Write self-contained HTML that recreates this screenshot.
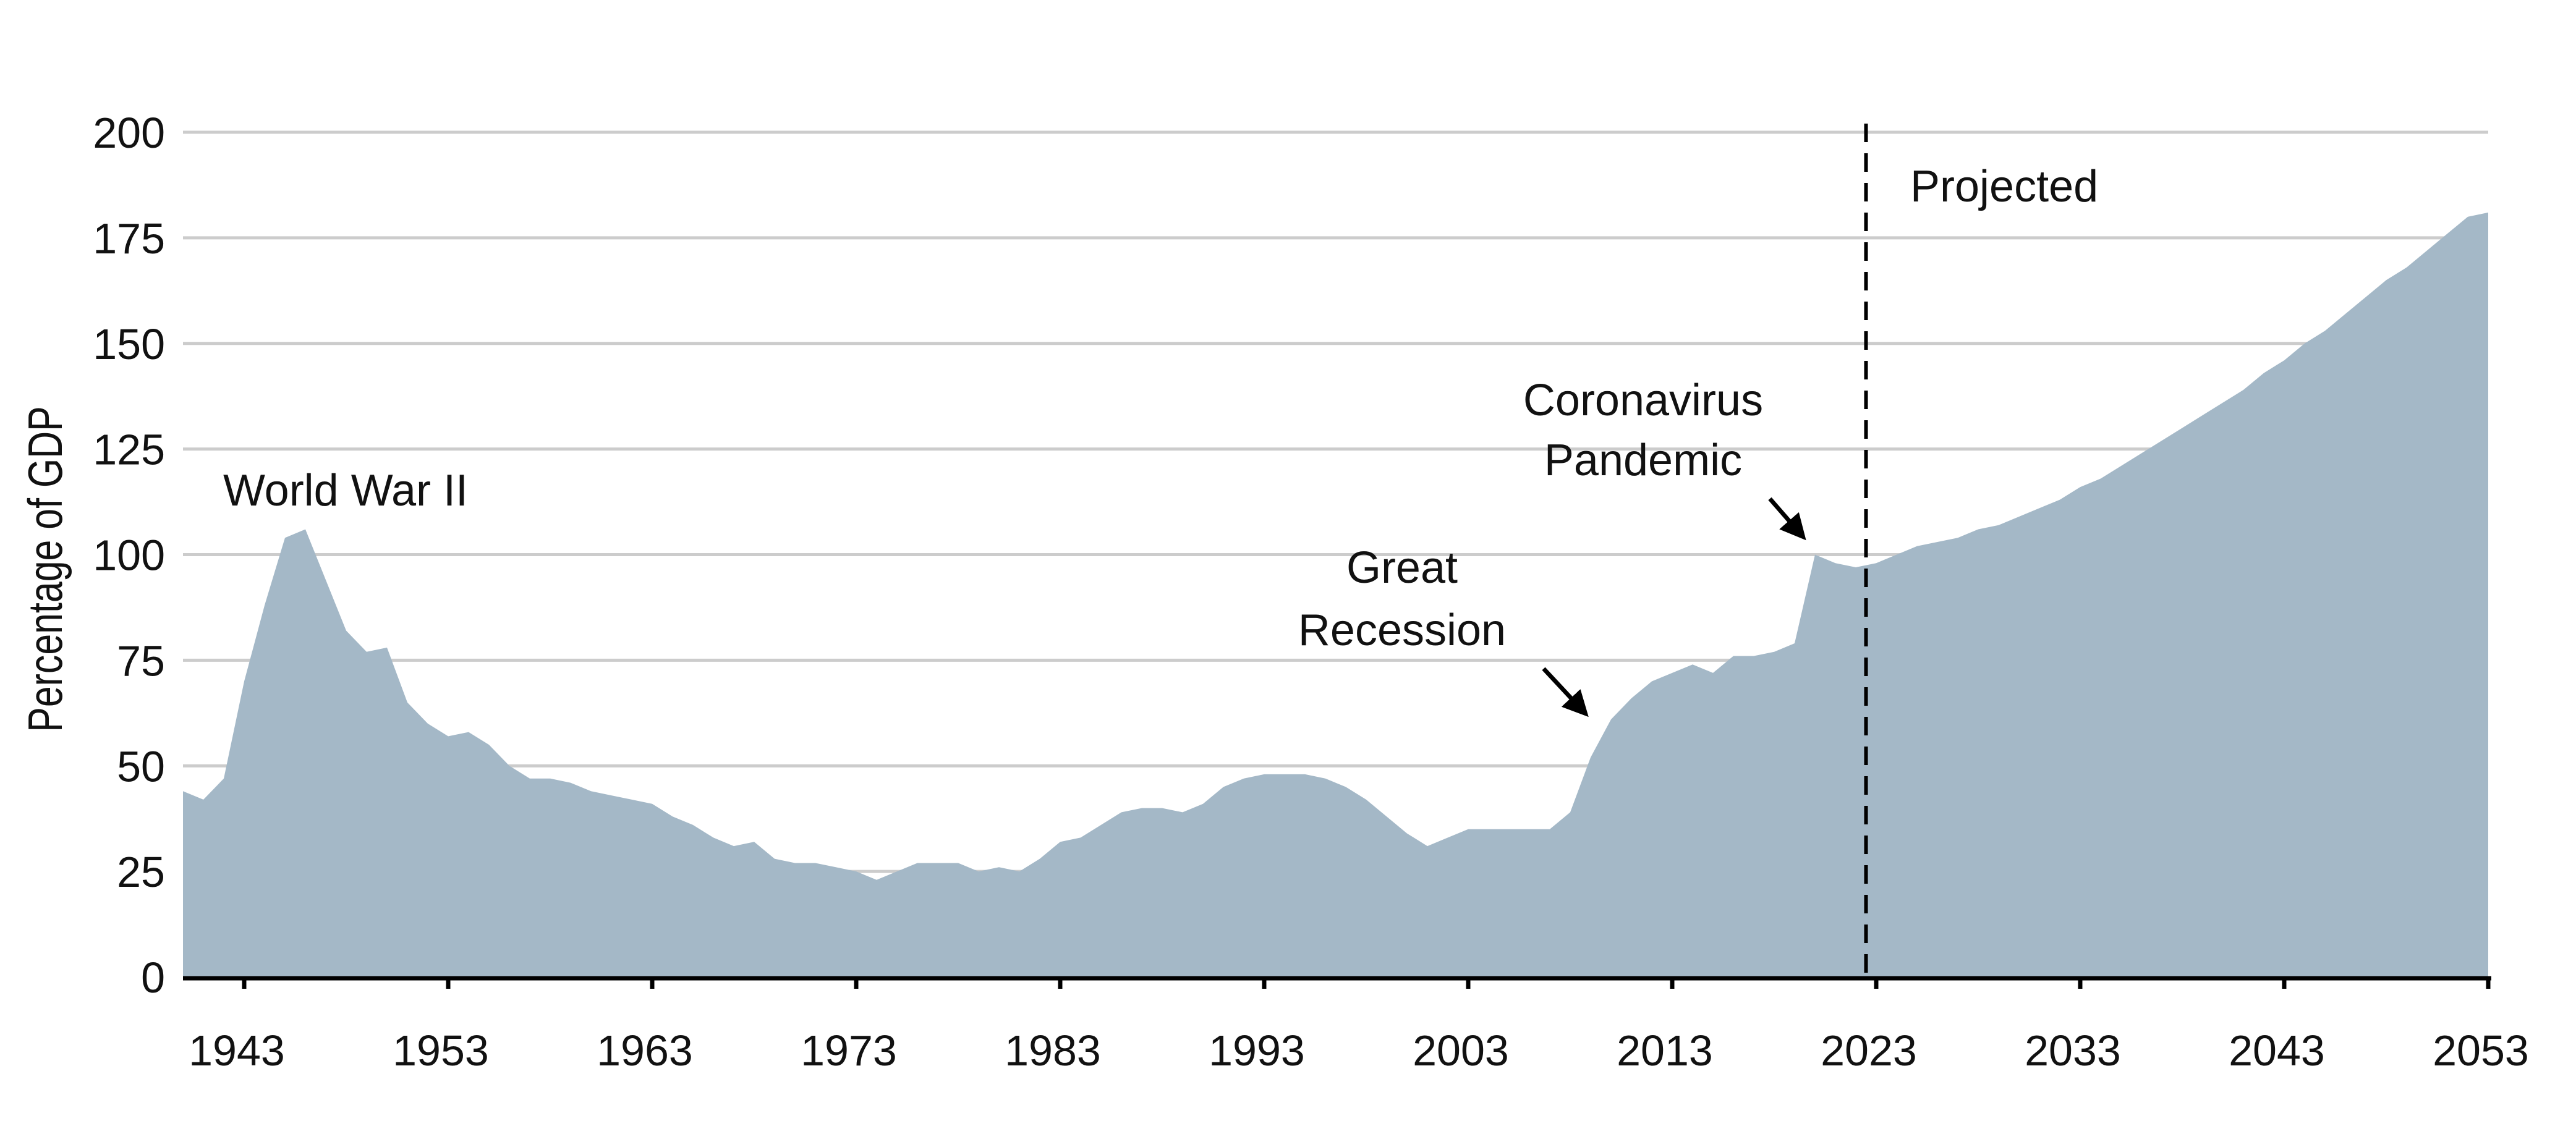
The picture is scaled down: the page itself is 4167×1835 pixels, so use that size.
<!DOCTYPE html>
<html><head><meta charset="utf-8"><style>
html,body{margin:0;padding:0;background:#fff}
svg{display:block}
text{font-family:"Liberation Sans",sans-serif;fill:#111}
</style></head><body>
<svg id="chart" width="4167" height="1835" viewBox="0 0 4167 1835" xmlns="http://www.w3.org/2000/svg">
<g id="grid"></g>
<g id="area"></g>
<g id="axes"></g>
<text transform="translate(100,921) rotate(-90) scale(0.78,1)" text-anchor="middle" font-size="78">Percentage of GDP</text>
<text x="361" y="818" font-size="72">World War II</text>
<text x="2658" y="672" font-size="72" text-anchor="middle">Coronavirus</text>
<text x="2658" y="769" font-size="72" text-anchor="middle">Pandemic</text>
<text x="2268" y="943" font-size="72" text-anchor="middle">Great</text>
<text x="2268" y="1044" font-size="72" text-anchor="middle">Recession</text>
<text x="3090" y="326" font-size="72">Projected</text>
<defs><marker id="ah" markerWidth="6" markerHeight="6" refX="5" refY="3" orient="auto"><path d="M0,0 L6,3 L0,6 z" fill="#000"/></marker></defs>
<line x1="2497" y1="1082" x2="2565" y2="1155" stroke="#000" stroke-width="7" marker-end="url(#ah)"/>
<line x1="2863" y1="807" x2="2917" y2="869" stroke="#000" stroke-width="7" marker-end="url(#ah)"/>
</svg>
<script>
const years=[];for(let y=1940;y<=2053;y++)years.push(y);
const debt=[44,42,47,70,88,104,106,94,82,77,78,65,60,57,58,55,50,47,47,46,44,43,42,41,38,36,33,31,32,28,27,27,26,25,23,25,27,27,27,25,26,25,28,32,33,36,39,40,40,39,41,45,47,48,48,48,47,45,42,38,34,31,33,35,35,35,35,35,39,52,61,66,70,72,74,72,76,76,77,79,100,98,97,98,100,102,103,104,106,107,109,111,113,116,118,121,124,127,130,133,136,139,143,146,150,153,157,161,165,168,172,176,180,181];
const yTicks=[0,25,50,75,100,125,150,175,200];
const xTicks=[1943,1953,1963,1973,1983,1993,2003,2013,2023,2033,2043,2053];
const projStart=[2022.5];
const NS="http://www.w3.org/2000/svg";
const X=y=>296+(y-1940)*(4025-296)/113;
const Y=v=>1581-v*(1581-214)/200;
function mk(t,a,p){const e=document.createElementNS(NS,t);for(const k in a)e.setAttribute(k,a[k]);p.appendChild(e);return e;}
const grid=document.getElementById('grid'),area=document.getElementById('area'),axes=document.getElementById('axes');
yTicks.forEach(v=>{
 if(v>0){const l=mk('line',{x1:296,x2:4025,y1:Y(v),y2:Y(v),stroke:'#cccccc','stroke-width':5},grid);
 
 }
 const t=mk('text',{x:267,y:Y(v)+25,'text-anchor':'end','font-size':70},axes);t.textContent=v;
 
 
});
let d='M'+X(years[0])+','+Y(0);
years.forEach((y,i)=>{d+=' L'+X(y).toFixed(1)+','+Y(debt[i]).toFixed(1);});
d+=' L'+X(years[years.length-1])+','+Y(0)+' Z';
const p=mk('path',{d:d,fill:'#a4b8c7'},area);


const ax=mk('line',{x1:296,x2:4030,y1:1583,y2:1583,stroke:'#000','stroke-width':7},axes);


xTicks.forEach(y=>{
 const tk=mk('line',{x1:X(y),x2:X(y),y1:1583,y2:1600,stroke:'#000','stroke-width':7},axes);
 
 
 const t=mk('text',{x:X(y)-12,y:1724,'text-anchor':'middle','font-size':70},axes);t.textContent=y;
 
 
});
const dl=mk('line',{x1:X(projStart[0]),x2:X(projStart[0]),y1:200,y2:1583,stroke:'#000','stroke-width':6,'stroke-dasharray':'30,18'},axes);


</script>
</body></html>
